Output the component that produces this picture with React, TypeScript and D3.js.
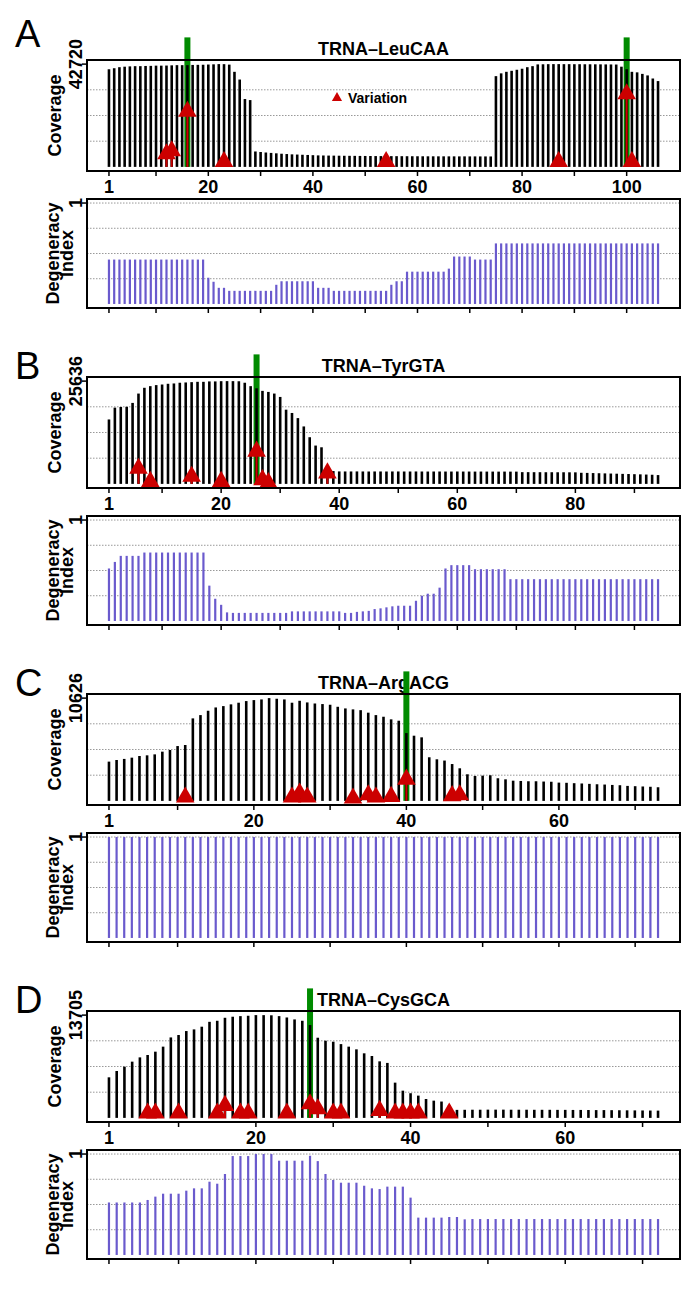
import * as d3 from "d3";

// tRNA coverage / degeneracy panels, scales from d3, marks as JSX

const W = 700;
const H = 1300;
const FONT = "'Liberation Sans', Arial, Helvetica, sans-serif";

// layout
const BOX_L = 87;
const BOX_R = 680;
const COV_TOP = 60;
const COV_H = 111;
const DEG_TOP = 199;
const DEG_H = 109;
const STEP = 317;

// ---- A: TRNA-LeuCAA ----
const covA = [
  40580, 41010, 41440, 41650, 41780, 41870, 41870, 41950, 41990, 42080,
  42080, 42120, 42210, 42290, 42290, 42290, 42380, 42420, 42460, 42550,
  42630, 42720, 42700, 42510, 39520, 36310, 28200, 27770, 6410, 6190,
  5980, 5810, 5640, 5470, 5340, 5210, 5130, 5040, 4960, 4870,
  4780, 4740, 4700, 4680, 4650, 4620, 4600, 4580, 4560, 4540,
  4520, 4500, 4490, 4480, 4470, 4460, 4450, 4440, 4430, 4420,
  4410, 4400, 4400, 4390, 4390, 4380, 4380, 4370, 4370, 4360,
  4360, 4350, 4350, 4340, 37720, 38880, 39520, 39940, 40370, 40800,
  41440, 41870, 42600, 42650, 42700, 42720, 42720, 42700, 42700, 42680,
  42680, 42660, 42650, 42640, 42620, 42600, 42580, 42550, 41650, 40600,
  39520, 39300, 38660, 38020, 36740, 35670,
];
const degA = [
  0.44, 0.44, 0.44, 0.44, 0.44, 0.44, 0.44, 0.44, 0.44, 0.44,
  0.44, 0.44, 0.44, 0.44, 0.44, 0.44, 0.44, 0.44, 0.44, 0.26,
  0.22, 0.16, 0.16, 0.13, 0.13, 0.13, 0.13, 0.13, 0.13, 0.13,
  0.13, 0.13, 0.19, 0.225, 0.225, 0.225, 0.225, 0.225, 0.225, 0.225,
  0.16, 0.16, 0.16, 0.13, 0.13, 0.13, 0.13, 0.13, 0.13, 0.13,
  0.13, 0.13, 0.13, 0.13, 0.19, 0.225, 0.225, 0.32, 0.32, 0.32,
  0.32, 0.32, 0.32, 0.32, 0.32, 0.35, 0.47, 0.47, 0.47, 0.47,
  0.44, 0.44, 0.44, 0.44, 0.6, 0.6, 0.6, 0.6, 0.6, 0.6,
  0.6, 0.6, 0.6, 0.6, 0.6, 0.6, 0.6, 0.6, 0.6, 0.6,
  0.6, 0.6, 0.6, 0.6, 0.6, 0.6, 0.6, 0.6, 0.6, 0.6,
  0.6, 0.6, 0.6, 0.6, 0.6, 0.6,
];
const varPosA = [12, 13, 16, 23, 54, 87, 100, 101];
const varValA = [5380, 6620, 23070, 2140, 2140, 2140, 30330, 2140];
const markA = [16, 100];
const ticksA = [1, 10, 20, 30, 40, 50, 60, 70, 80, 90, 100];
const labelsA = [1, 20, 40, 60, 80, 100];

// ---- B: TRNA-TyrGTA ----
const covB = [
  16070, 19020, 19180, 19230, 20200, 22530, 23970, 24380, 24640, 24790,
  24970, 25050, 25230, 25300, 25380, 25460, 25460, 25560, 25560, 25620,
  25636, 25630, 25600, 25230, 24380, 23840, 23200, 22940, 22530, 21690,
  18510, 17690, 16410, 14330, 11640, 9560, 9130, 3850, 3200, 3110,
  3100, 3100, 3110, 3100, 3090, 3100, 3100, 3090, 3100, 3100,
  3090, 3090, 3100, 3090, 3080, 3090, 3090, 3080, 3080, 3090,
  3080, 3080, 3070, 3080, 3070, 3070, 3060, 3070, 3060, 3060,
  2930, 2930, 2920, 2920, 2910, 2910, 2900, 2900, 2890, 2880,
  2770, 2740, 2700, 2660, 2620, 2580, 2540, 2500, 2460, 2420,
  2380, 2330, 2280, 2200,
];
const degB = [
  0.52, 0.585, 0.645, 0.645, 0.645, 0.645, 0.678, 0.678, 0.678, 0.678,
  0.678, 0.678, 0.678, 0.678, 0.678, 0.678, 0.678, 0.35, 0.22, 0.16,
  0.085, 0.08, 0.08, 0.08, 0.08, 0.08, 0.08, 0.08, 0.08, 0.08,
  0.08, 0.095, 0.095, 0.095, 0.095, 0.095, 0.095, 0.095, 0.095, 0.095,
  0.08, 0.08, 0.09, 0.095, 0.1, 0.118, 0.125, 0.135, 0.145, 0.151,
  0.151, 0.151, 0.2, 0.25, 0.27, 0.27, 0.33, 0.52, 0.553, 0.553,
  0.553, 0.553, 0.513, 0.513, 0.513, 0.513, 0.513, 0.513, 0.414, 0.414,
  0.414, 0.414, 0.414, 0.414, 0.414, 0.414, 0.414, 0.414, 0.414, 0.414,
  0.414, 0.414, 0.414, 0.414, 0.414, 0.414, 0.414, 0.414, 0.414, 0.414,
  0.414, 0.414, 0.414, 0.414,
];
const varPosB = [6, 8, 15, 20, 26, 27, 28, 38];
const varValB = [3850, 590, 1850, 590, 8130, 1030, 260, 2690];
const markB = [26];
const ticksB = [1, 10, 20, 30, 40, 50, 60, 70, 80, 90];
const labelsB = [1, 20, 40, 60, 80];

// ---- C: TRNA-ArgACG ----
const covC = [
  4060, 4230, 4340, 4470, 4640, 4710, 4810, 5090, 5260, 5670,
  5780, 8530, 8870, 9320, 9660, 9800, 9980, 10150, 10320, 10420,
  10490, 10626, 10560, 10490, 10150, 10350, 10180, 10070, 10010, 9940,
  9730, 9560, 9460, 9380, 9120, 8870, 8700, 8430, 8290, 7010,
  6740, 6570, 4510, 4300, 4170, 3810, 3370, 2750, 2580, 2610,
  2650, 2340, 2230, 2090, 2060, 2030, 2030, 2000, 1980, 1890,
  1870, 1830, 1800, 1760, 1720, 1690, 1650, 1620, 1550, 1520,
  1490, 1460, 1410,
];
const degC = [
  1, 1, 1, 1, 1, 1, 1, 1, 1, 1,
  1, 1, 1, 1, 1, 1, 1, 1, 1, 1,
  1, 1, 1, 1, 1, 1, 1, 1, 1, 1,
  1, 1, 1, 1, 1, 1, 1, 1, 1, 1,
  1, 1, 1, 1, 1, 1, 1, 1, 1, 1,
  1, 1, 1, 1, 1, 1, 1, 1, 1, 1,
  1, 1, 1, 1, 1, 1, 1, 1, 1, 1,
  1, 1, 1,
];
const varPosC = [11, 25, 26, 27, 33, 35, 36, 38, 40, 46, 47];
const varValC = [380, 380, 800, 380, 280, 620, 380, 450, 2230, 520, 620];
const markC = [40];
const ticksC = [1, 10, 20, 30, 40, 50, 60, 70];
const labelsC = [1, 20, 40, 60];

// ---- D: TRNA-CysGCA ----
const covD = [
  5410, 6250, 6830, 7500, 8070, 8390, 8830, 9500, 10730, 11050,
  11580, 11800, 12160, 12810, 12950, 13350, 13490, 13570, 13620, 13705,
  13700, 13680, 13570, 13390, 13130, 12950, 12380, 10690, 10290, 10160,
  9840, 9500, 9140, 8610, 8250, 7540, 7330, 4700, 3630, 3290,
  2970, 2520, 2300, 2180, 1700, 1070, 1080, 1090, 1090, 1100,
  1100, 1100, 1090, 1090, 1090, 1080, 1080, 1080, 1070, 1070,
  1060, 1060, 1050, 1040, 1040, 1030, 1020, 1010, 1000, 990,
  980, 970,
];
const degD = [
  0.52, 0.52, 0.52, 0.52, 0.52, 0.545, 0.578, 0.607, 0.607, 0.607,
  0.637, 0.66, 0.66, 0.726, 0.706, 0.802, 0.98, 0.98, 0.98, 1.0,
  1.0, 1.0, 0.934, 0.934, 0.934, 0.934, 0.983, 0.93, 0.802, 0.743,
  0.716, 0.716, 0.716, 0.686, 0.66, 0.653, 0.677, 0.677, 0.677, 0.568,
  0.37, 0.37, 0.37, 0.37, 0.376, 0.376, 0.353, 0.356, 0.356, 0.356,
  0.356, 0.356, 0.356, 0.356, 0.356, 0.356, 0.356, 0.356, 0.356, 0.356,
  0.356, 0.356, 0.356, 0.356, 0.356, 0.356, 0.356, 0.356, 0.356, 0.356,
  0.356, 0.356,
];
const varPosD = [6, 7, 10, 15, 16, 18, 19, 24, 27, 28, 30, 31, 36, 38, 39, 40, 41, 45];
const varValD = [620, 620, 620, 620, 1640, 620, 620, 620, 1860, 1190, 620, 620, 970, 620, 620, 620, 620, 620];
const markD = [27];
const ticksD = [1, 10, 20, 30, 40, 50, 60, 70];
const labelsD = [1, 20, 40, 60];

const panels = [
  { letter: "A", letterY: 47, title: "TRNA–LeuCAA", max: 42720, cov: covA, deg: degA, varPos: varPosA, varVal: varValA, marks: markA, ticks: ticksA, labels: labelsA, legend: true },
  { letter: "B", letterY: 379, title: "TRNA–TyrGTA", max: 25636, cov: covB, deg: degB, varPos: varPosB, varVal: varValB, marks: markB, ticks: ticksB, labels: labelsB, legend: false },
  { letter: "C", letterY: 696, title: "TRNA–ArgACG", max: 10626, cov: covC, deg: degC, varPos: varPosC, varVal: varValC, marks: markC, ticks: ticksC, labels: labelsC, legend: false },
  { letter: "D", letterY: 1013, title: "TRNA–CysGCA", max: 13705, cov: covD, deg: degD, varPos: varPosD, varVal: varValD, marks: markD, ticks: ticksD, labels: labelsD, legend: false },
];

const RED = "#cc0000";
const GREEN = "#008b00";
const BLUE = "#6a5acd";
const GRID = "#999";

function Panel({ p, i }: { p: (typeof panels)[number]; i: number }) {
  const off = i * STEP;
  const n = p.cov.length;
  const ext = 0.04 * (n - 1); // R style axis padding
  const x = d3.scaleLinear().domain([1 - ext, n + ext]).range([BOX_L, BOX_R]);

  const cTop = off + COV_TOP;
  const cBot = cTop + COV_H;
  const yC = d3.scaleLinear().domain([-0.04 * p.max, 1.04 * p.max]).range([cBot, cTop]);

  const dTop = off + DEG_TOP;
  const dBot = dTop + DEG_H;
  const yD = d3.scaleLinear().domain([-0.04, 1.04]).range([dBot, dTop]);

  const tri = d3.symbol().type(d3.symbolTriangle).size(150)() as string;
  const triSmall = d3.symbol().type(d3.symbolTriangle).size(45)() as string;

  const cMid = (cTop + cBot) / 2;
  const dMid = (dTop + dBot) / 2;
  const greenTop = yC(1.26 * p.max);

  return (
    <g>
      <text x={15} y={p.letterY} fontSize={38}>{p.letter}</text>
      <text x={(BOX_L + BOX_R) / 2} y={cTop - 5} textAnchor="middle" fontSize={18} fontWeight="bold">
        {p.title}
      </text>

      {/* coverage */}
      {[0.25, 0.5, 0.75].map((f) => (
        <line key={f} x1={BOX_L} x2={BOX_R} y1={yC(f * p.max)} y2={yC(f * p.max)}
          stroke={GRID} strokeDasharray="1.5 1.5" />
      ))}
      {p.marks.map((m) => (
        <rect key={m} x={x(m) - 3} width={6} y={greenTop} height={yC(0) - greenTop} fill={GREEN} />
      ))}
      {p.cov.map((v, k) => (
        <line key={k} x1={x(k + 1)} x2={x(k + 1)} y1={yC(0)} y2={yC(v)} stroke="#000" strokeWidth={2.6} />
      ))}
      {p.varPos.map((pos, k) => (
        <line key={"r" + k} x1={x(pos)} x2={x(pos)} y1={yC(0)} y2={yC(p.varVal[k])} stroke={RED} strokeWidth={2} />
      ))}
      {p.varPos.map((pos, k) => (
        <path key={"t" + k} d={tri} transform={`translate(${x(pos)},${yC(p.varVal[k])})`} fill={RED} />
      ))}
      <rect x={BOX_L} y={cTop} width={BOX_R - BOX_L} height={COV_H} fill="none" stroke="#000" strokeWidth={2} />
      {p.ticks.map((t) => (
        <line key={"xt" + t} x1={x(t)} x2={x(t)} y1={cBot} y2={cBot + 5} stroke="#000" strokeWidth={1.5} />
      ))}
      {p.labels.map((t) => (
        <text key={"xl" + t} x={x(t)} y={cBot + 22} textAnchor="middle" fontSize={18} fontWeight="bold">{t}</text>
      ))}
      <line x1={BOX_L - 5} x2={BOX_L} y1={yC(p.max)} y2={yC(p.max)} stroke="#000" strokeWidth={1.5} />
      <text transform={`translate(82,${yC(p.max)}) rotate(-90)`} textAnchor="middle" fontSize={18} fontWeight="bold">
        {p.max}
      </text>
      <text transform={`translate(61,${cMid}) rotate(-90)`} textAnchor="middle" fontSize={18} fontWeight="bold">
        Coverage
      </text>
      {p.legend && (
        <g>
          <path d={triSmall} transform="translate(337,98)" fill={RED} />
          <text x={348} y={103} fontSize={14} fontWeight="bold">Variation</text>
        </g>
      )}

      {/* degeneracy index */}
      {[0.25, 0.5, 0.75, 1].map((f) => (
        <line key={"dg" + f} x1={BOX_L} x2={BOX_R} y1={yD(f)} y2={yD(f)}
          stroke={GRID} strokeDasharray="1.5 1.5" />
      ))}
      {p.deg.map((v, k) => (
        <line key={"d" + k} x1={x(k + 1)} x2={x(k + 1)} y1={yD(0)} y2={yD(v)} stroke={BLUE} strokeWidth={2.2} />
      ))}
      <rect x={BOX_L} y={dTop} width={BOX_R - BOX_L} height={DEG_H} fill="none" stroke="#000" strokeWidth={2} />
      {p.ticks.map((t) => (
        <line key={"dt" + t} x1={x(t)} x2={x(t)} y1={dBot} y2={dBot + 5} stroke="#000" strokeWidth={1.5} />
      ))}
      <line x1={BOX_L - 5} x2={BOX_L} y1={yD(1)} y2={yD(1)} stroke="#000" strokeWidth={1.5} />
      <text transform={`translate(82,${yD(1)}) rotate(-90)`} textAnchor="middle" fontSize={18} fontWeight="bold">1</text>
      <text transform={`translate(59,${dMid}) rotate(-90)`} textAnchor="middle" fontSize={18} fontWeight="bold">
        Degeneracy
      </text>
      <text transform={`translate(73,${dMid}) rotate(-90)`} textAnchor="middle" fontSize={18} fontWeight="bold">
        Index
      </text>
    </g>
  );
}

export default function App() {
  return (
    <svg
      width={W}
      height={H}
      fontFamily={FONT}
      style={{ position: "absolute", left: 0, top: 0, background: "#fff" }}
    >
      {panels.map((p, i) => (
        <Panel key={p.letter} p={p} i={i} />
      ))}
    </svg>
  );
}
